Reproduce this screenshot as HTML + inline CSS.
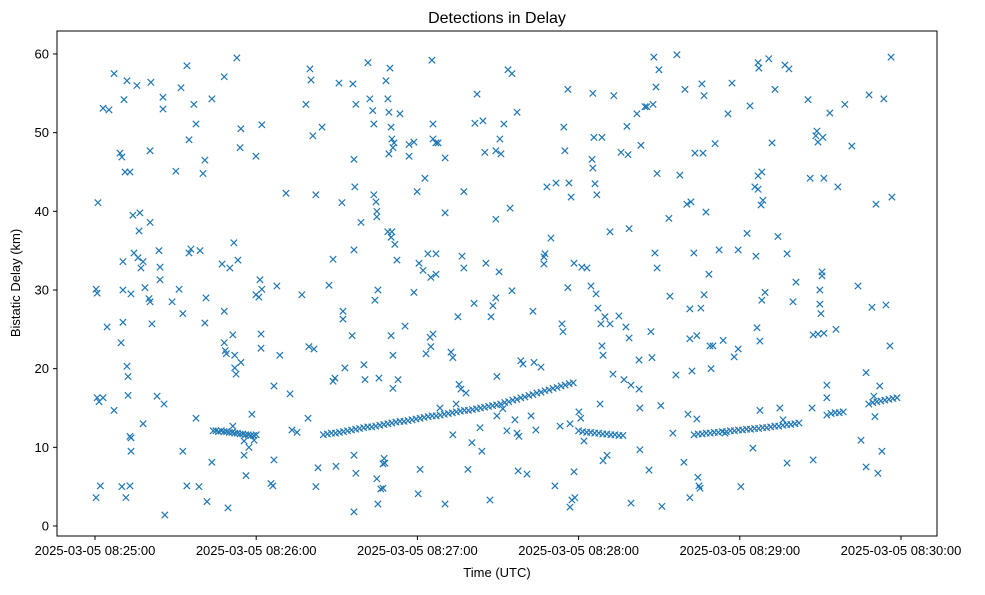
<!DOCTYPE html>
<html><head><meta charset="utf-8"><style>
body{margin:0;background:#fff;}
svg text{font-family:"Liberation Sans","DejaVu Sans",sans-serif;fill:#000;}
</style></head><body>
<svg id="chart" width="985" height="590" xmlns="http://www.w3.org/2000/svg">
<rect width="985" height="590" fill="#fff"/>
<text x="497" y="23" font-size="16" text-anchor="middle">Detections in Delay</text>
<g id="marks"></g>
<g id="axes"></g>
<rect x="57" y="31" width="880" height="505" fill="none" stroke="#000" stroke-width="1"/>
<text x="497" y="577" font-size="13" text-anchor="middle">Time (UTC)</text>
<text transform="translate(20,283) rotate(-90)" font-size="13" text-anchor="middle">Bistatic Delay (km)</text>
</svg>
<script>
// seconds after 2025-03-05 08:25:00, delay in km
const xTickSeconds=[0,60,120,180,240,300];
const xTickLabels=["2025-03-05 08:25:00","2025-03-05 08:26:00","2025-03-05 08:27:00","2025-03-05 08:28:00","2025-03-05 08:29:00","2025-03-05 08:30:00"];
const yTicks=[0,10,20,30,40,50,60];
const noisePoints=[[0.4,30.1],[0.8,29.6],[1.1,41.1],[0.8,16.3],[1.5,15.8],[3,16.3],[2,5.1],[0.4,3.6],[3,53.1],[5.2,52.9],[4.5,25.3],[7.1,14.7],[7.1,57.5],
[9.3,47.4],[10,46.9],[10.8,54.2],[11.9,56.6],[11.2,45],[13,45],[11.9,20.3],[12.3,19],[12.3,16.6],[13,11.4],[13.4,11.2],[13.4,9.5],[10,5],[13,5.1],[11.5,3.6],[9.7,23.3],[10.4,25.9],[10.4,30],[10.4,33.6],[13.4,29.5],[14.1,39.5],[15.6,56],[14.5,34.7],[16,34.1],[16.4,37.5],[16.7,39.8],[17.1,32.8],[17.9,33.6],[18.6,30.3],[17.9,13],[20.5,38.6],[20.8,56.4],[20.5,47.7],[20.1,28.9],[20.5,28.5],[21.2,25.7],[23.1,16.5],[23.8,35],[24.2,31.3],[24.2,32.9],[25.3,54.5],[25.3,53],[25.7,15.5],[26,1.4],[28.7,28.5],[30.1,45.1],[31.3,30.1],[32,55.7],[32.7,9.5],[32.7,27],[34.2,5.1],[34.2,58.5],[35,49.1],[35,34.7],[35.7,35.2],[36.8,53.6],[37.6,13.7],[37.6,51.1],[38.7,5],[39.1,35],[40.2,44.8],[40.9,46.5],[41.3,29],[40.9,25.8],[41.7,3.1],[43.5,8.1],[43.5,54.3],[47.3,33.3],[48.1,57.1],[48.1,27.3],[48.1,23.3],[48.5,22.3],[48.9,21.9],[49.5,2.3],[50.2,32.8],[51.3,12.7],[51.7,36],[52.8,59.5],[51.3,24.3],[52,21.7],[52,20.1],[52.5,19.3],[53.2,33.8],[54.3,50.5],[54,48.1],[54.3,20.8],[56.2,6.4],[55.5,9],[55.5,10.8],[57.3,10],[59.2,10.9],[58.4,14.2],[59.9,47],[59.9,29.4],[61,29.1],[62.1,51],[61.4,31.3],[61.8,24.4],[61.8,22.6],[62.1,30.1],[65.5,5.4],[66.2,5.1],[66.6,8.4],[66.6,17.8],[67.7,30.5],[68.8,21.7],[71.1,42.3],[72.6,16.8],[73.3,12.2],[75.2,11.9],[77,29.4],[78.5,53.6],[79.6,22.8],[80,58.1],[80.4,56.7],[81.1,49.6],[82.2,42.1],[81.5,22.5],[79.3,13.7],[82.2,5],[83,7.4],[84.5,50.7],[87.1,30.6],[88.6,33.9],[88.6,18.4],[89.3,18.8],[89.7,7.6],[90.8,56.3],[91.9,41.1],[92.3,27.3],[92.3,26.3],[93,20.1],[96,56.2],[96.4,46.6],[96.7,43.1],[97.1,53.6],[96.4,35.1],[96.4,9],[96.4,1.8],[95.7,24.2],[97.1,6.7],[99,38.6],[100.1,20.5],[100.5,18.6],[101.6,58.9],[102.3,54.3],[103.4,52.8],[103.8,51.1],[103.8,42.1],[104.2,28.7],[104.6,41.2],[104.9,40],[104.9,39.3],[105.3,30],[105.7,18.8],[104.9,6],[105.3,2.8],[106.4,4.7],[107.2,4.8],[107.2,7.9],[107.6,8.6],[107.9,8],[108.3,56.6],[109,54.3],[109.4,47.3],[109.8,58.2],[109.4,52.6],[110.2,50.7],[110.5,49.2],[110.9,48.1],[111.3,48.7],[109,37.4],[110.5,37.4],[110.2,36.7],[111.6,35.8],[110.2,24.2],[110.9,21.7],[110.9,17.5],[112.8,18.6],[113.5,52.4],[112.4,33.8],[115.4,25.4],[116.9,47],[116.9,48.5],[118.7,48.8],[119.9,42.5],[120.6,33.4],[121,7.2],[120.3,4.1],[118.7,29.7],[122.1,32.5],[122.8,44.2],[123.2,21.9],[123.9,34.6],[124.7,24],[125,22.8],[125,31.6],[125.4,59.2],[125.8,51.1],[125.8,49.2],[126.9,48.7],[125.8,24.4],[126.9,34.6],[126.9,32],[127.7,48.7],[130.3,46.8],[130.3,39.8],[128.4,15],[130.3,2.8],[132.5,22.1],[133.2,21.4],[133.2,11.6],[134.4,15.5],[135.1,26.6],[135.5,18],[136.2,17.4],[136.6,34.3],[137.3,32.8],[138.1,16.9],[137.3,42.5],[138.8,7.2],[140.3,10.6],[141.1,28.3],[141.4,51.2],[142.2,54.9],[143.3,12.5],[144,9.5],[144.4,51.5],[145.1,47.5],[145.5,33.4],[147,3.3],[147.4,26.6],[148.1,28],[149.2,29],[149.6,14],[149.2,47.7],[149.2,39],[149.6,19],[150.4,32.3],[150.7,49.2],[151.1,47.3],[151.8,14.9],[152.2,51.1],[153.3,12.1],[153.7,58],[154.5,40.4],[155.2,29.9],[155.2,57.5],[156.3,13.5],[157.1,11.8],[157.8,11.4],[157.1,52.6],[157.5,7],[158.5,21],[159.3,20.6],[160.8,6.6],[162.3,14],[163,27.3],[163.4,20.8],[164.1,12.2],[166,20.2],[167.1,34.2],[167.5,34.6],[167.1,33.3],[168.2,43.1],[169.7,36.6],[171.2,5.1],[171.6,43.6],[173.1,12.7],[174.5,50.7],[174.9,47.7],[173.8,25.7],[174.2,24.7],[176,55.5],[176,30.3],[176.4,43.6],[176.8,2.4],[177.2,41.8],[177.5,3.3],[178.6,3.6],[178.3,33.4],[178.3,6.9],[176.8,13],[180.1,14.5],[180.8,13.7],[181.2,32.9],[182,10.8],[183.1,32.8],[184.6,30.5],[185,46.6],[185.3,55],[185.3,45.5],[185.7,49.4],[186.1,43.5],[186.5,29.5],[186.8,42.1],[187.2,27.7],[188,15.5],[188.3,25.7],[188.7,49.4],[188.7,22.9],[189.1,21.7],[189.1,8.3],[189.8,26.6],[190.6,9],[191.7,25.7],[191.7,37.4],[192.8,19.3],[193.1,54.7],[195,26.7],[195.8,47.5],[196.9,18.6],[197.6,25.3],[198,50.8],[198.4,47.2],[198.8,37.8],[198.8,23.9],[199.5,2.9],[199.5,17.9],[201.7,52.4],[202.5,21.1],[202.5,17.4],[202.8,15],[202.8,9.7],[203.2,48.4],[204.7,53.3],[205.4,53.3],[206.2,7.1],[206.9,24.7],[207.3,21.4],[207.7,53.6],[208,59.6],[208.4,34.7],[208.8,55.8],[209.2,32.8],[209.2,44.8],[209.9,58],[210.6,15.3],[211,2.5],[213.6,39.1],[214,29.2],[215.1,11.8],[216.2,19.2],[216.6,59.9],[217.7,44.6],[219.2,8.1],[219.6,55.5],[220.3,40.9],[220.7,14.2],[221.8,41.2],[221.4,3.6],[221.4,27.6],[221.4,23.8],[222.2,19.7],[222.9,34.7],[223.3,47.4],[224,13.6],[224,24.2],[224.4,6.2],[224.8,5.1],[225.2,4.8],[225.5,27.7],[225.9,56.2],[226.3,47.4],[226.7,54.7],[226.7,29.4],[227.4,39.9],[228.5,32],[228.9,22.9],[229.3,20],[230,22.9],[230.8,48.6],[232.3,35.1],[233.8,23.6],[234.5,11.8],[235.6,52.4],[237.1,56.3],[237.9,21.5],[239.4,35.1],[239.4,22.5],[240.4,5],[242.7,37.2],[243.8,53.4],[244.9,9.9],[246,34.3],[245.6,43.1],[246.4,25.2],[246.8,44.5],[246.8,42.8],[246.8,58.9],[247.1,58.2],[247.5,14.7],[247.5,23.5],[247.9,40.8],[248.2,45],[248.2,28.7],[248.6,41.4],[249.4,29.7],[250.8,59.4],[252,48.7],[253.1,55.5],[254.2,36.8],[254.9,15],[256.1,13.5],[256.8,58.6],[257.6,8],[257.6,34.6],[258.3,58.1],[259.8,28.5],[260.9,31],[265.4,54.2],[266.2,44.2],[266.9,15],[267.3,24.3],[267.3,8.4],[268.3,49.6],[269.1,48.8],[268.7,50.2],[269.1,24.4],[269.8,30],[269.8,28.2],[270.2,27],[270.6,31.8],[270.6,32.3],[270.9,49.4],[271.3,44.2],[271.3,24.5],[272.4,17.9],[272.4,16.3],[272.4,14.1],[273.5,52.5],[275.8,25],[276.5,43.1],[279.1,53.6],[281.7,48.3],[284,30.5],[285.1,10.9],[287,7.5],[287,19.5],[288.1,54.8],[289.2,27.8],[289.9,16.5],[290.7,40.9],[290.3,13.9],[291.4,6.7],[292.1,17.8],[292.9,9.5],[293.6,54.3],[294.4,28.1],[295.9,22.9],[296.3,59.6],[296.6,41.8]];
const trackATimes=[44,45,46,47,48,49,50,51,52,53,54,55,56,57,58,59,60];
const trackAKm=[12.1,12.1,12.0,12.1,12.0,12.0,11.9,11.9,11.8,11.8,11.7,11.7,11.6,11.6,11.5,11.5,11.6];
const trackBTimes=[85,86.5,88,89.5,91,92.5,94,95.5,97,98.5,100,101.5,103,104.5,106,107.5,109,110.5,112,113.5,115,116.5,118,119.5,121,122.5,124,125.5,127,128.5,130,131.5,133,134.5,136,137.5,139,140.5,142,143.5,145,146.5,148,149.5,151,152.5,154,155.5,157,158.5,160,161.5,163,164.5,166,167.5,169,170.5,172,173.5,175,176.5,178];
const trackBKm=[11.6,11.7,11.8,11.8,11.9,12.0,12.1,12.2,12.3,12.4,12.5,12.6,12.6,12.7,12.8,12.9,13.0,13.1,13.2,13.3,13.3,13.4,13.5,13.6,13.7,13.8,13.9,14.0,14.0,14.1,14.2,14.3,14.4,14.5,14.6,14.7,14.7,14.8,14.9,15.0,15.1,15.2,15.3,15.4,15.5,15.7,15.8,16.0,16.1,16.3,16.4,16.6,16.7,16.9,17.0,17.2,17.3,17.5,17.6,17.8,17.9,18.1,18.2];
const trackCTimes=[180,181.5,183,184.5,186,187.5,189,190.5,192,193.5,195,196.5];
const trackCKm=[12.1,12.0,11.9,11.9,11.8,11.8,11.7,11.7,11.6,11.6,11.5,11.5];
const trackDTimes=[223,224.5,226,227.5,229,230.5,232,233.5,235,236.5,238,239.5,241,242.5,244,245.5,247,248.5,250,251.5,253,254.5,256,257.5,259,260.5,262];
const trackDKm=[11.6,11.7,11.7,11.8,11.8,11.9,11.9,12.0,12.0,12.1,12.1,12.2,12.2,12.3,12.3,12.4,12.4,12.5,12.5,12.6,12.7,12.7,12.8,12.9,12.9,13.0,13.1];
const trackETimes=[274,275.5,277,278.5,288,289.5,291,292.5,294,295.5,297,298.5];
const trackEKm=[14.3,14.4,14.4,14.5,15.5,15.7,15.8,15.9,16.0,16.1,16.2,16.3];

const NS="http://www.w3.org/2000/svg";
const X0=95,PXS=161.2/60,Y0=526,PXK=7.867;
function xScale(s){return X0+s*PXS;}
function yScale(k){return Y0-k*PXK;}
const marks=document.getElementById('marks');
const axes=document.getElementById('axes');
function drawX(t,k,name){
  const x=xScale(t),y=yScale(k),r=3.2;
  const p=document.createElementNS(NS,'path');
  p.setAttribute('d',`M${x-r},${y-r}L${x+r},${y+r}M${x-r},${y+r}L${x+r},${y-r}`);
  p.setAttribute('stroke','#1f77b4');p.setAttribute('stroke-width','1.2');p.setAttribute('fill','none');
  
  
  marks.appendChild(p);
}
noisePoints.forEach(d=>drawX(d[0],d[1],'detection-point'));
[[trackATimes,trackAKm],[trackBTimes,trackBKm],[trackCTimes,trackCKm],[trackDTimes,trackDKm],[trackETimes,trackEKm]].forEach(tr=>{
  tr[0].forEach((t,i)=>drawX(t,tr[1][i],'track-point'));
});
xTickSeconds.forEach((s,i)=>{
  const x=xScale(s);
  const l=document.createElementNS(NS,'line');
  l.setAttribute('x1',x);l.setAttribute('x2',x);l.setAttribute('y1',536);l.setAttribute('y2',540);l.setAttribute('stroke','#000');
  
  
  axes.appendChild(l);
  const t=document.createElementNS(NS,'text');
  t.setAttribute('x',x);t.setAttribute('y',555);t.setAttribute('font-size','13');t.setAttribute('text-anchor','middle');
  t.textContent=xTickLabels[i];
  
  
  axes.appendChild(t);
});
yTicks.forEach(v=>{
  const y=yScale(v);
  const l=document.createElementNS(NS,'line');
  l.setAttribute('x1',53);l.setAttribute('x2',57);l.setAttribute('y1',y);l.setAttribute('y2',y);l.setAttribute('stroke','#000');
  
  
  axes.appendChild(l);
  const t=document.createElementNS(NS,'text');
  t.setAttribute('x',49);t.setAttribute('y',y+4.5);t.setAttribute('font-size','13');t.setAttribute('text-anchor','end');
  t.textContent=v;
  
  
  axes.appendChild(t);
});
</script>
</body></html>
